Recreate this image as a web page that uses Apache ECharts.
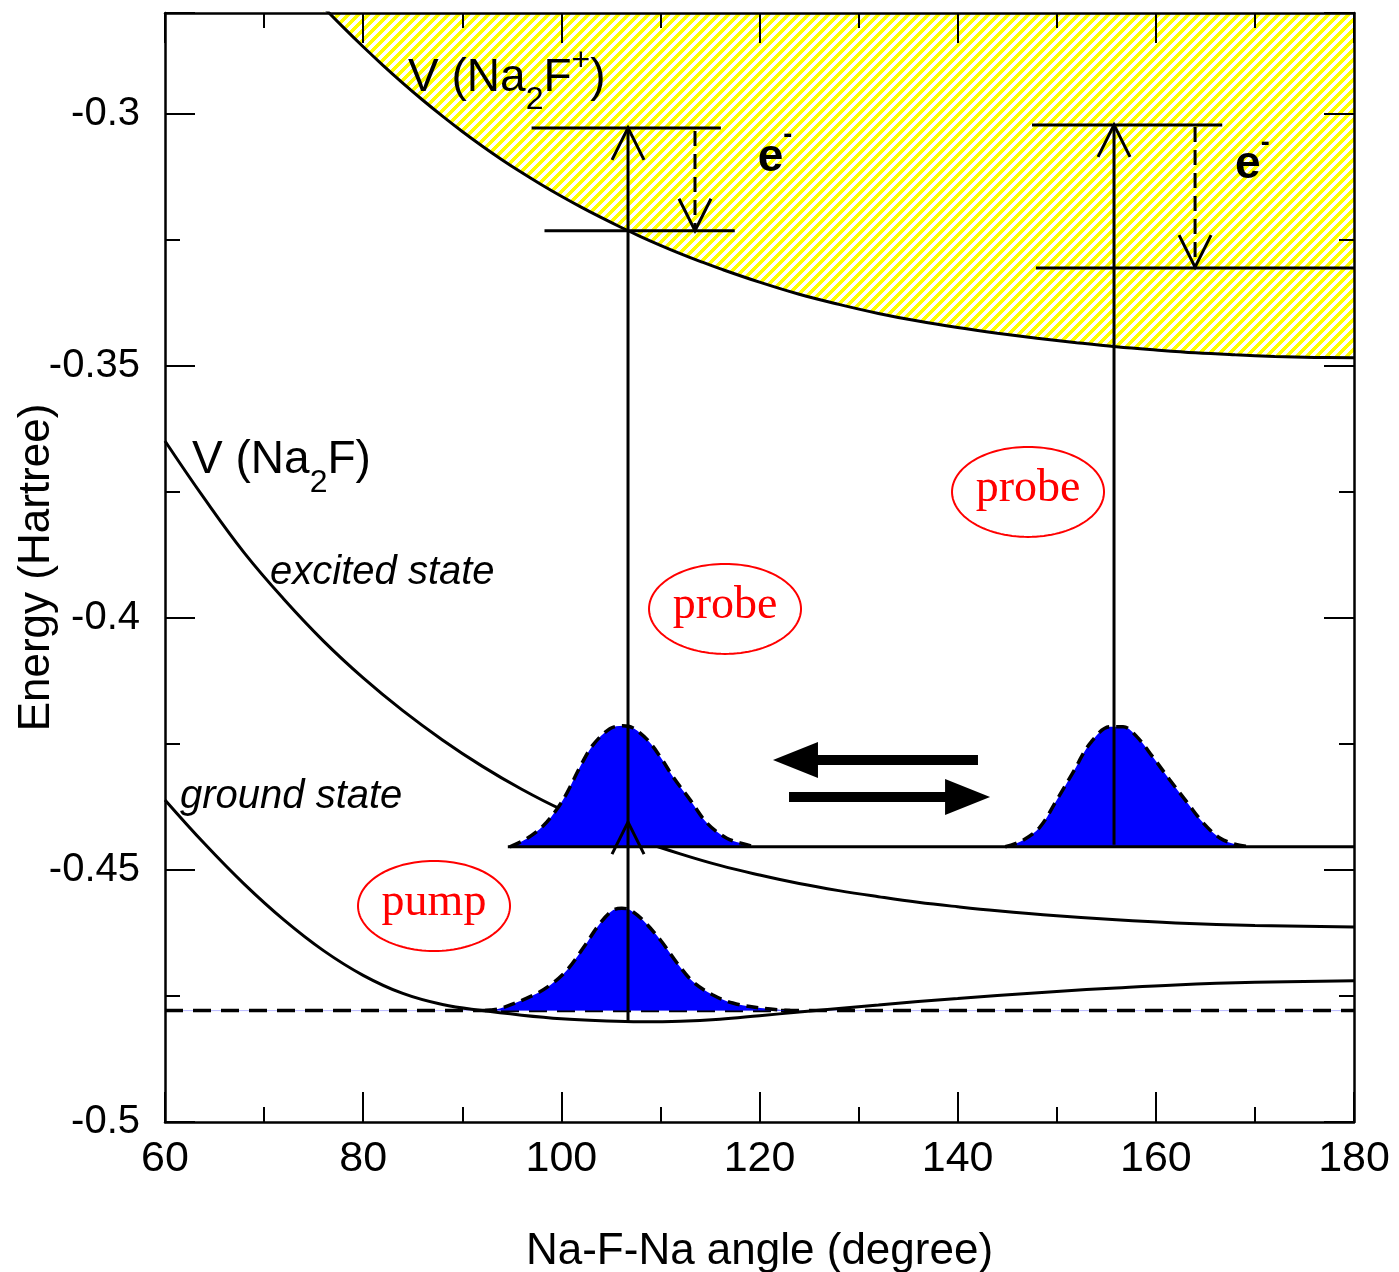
<!DOCTYPE html>
<html>
<head>
<meta charset="utf-8">
<script src="https://cdn.jsdelivr.net/npm/echarts@6/dist/echarts.min.js"></script>
<style>
  html, body { margin: 0; padding: 0; background: #fff; }
  #chart { width: 1399px; height: 1272px; }
</style>
</head>
<body>
<div id="chart"></div>
<script>
// ---- potential energy curves (angle in degree, energy in Hartree) ----
const ionCurve = [
  [76, -0.27886], [78, -0.28286], [80, -0.28670], [82, -0.29038], [84, -0.29390], [86, -0.29726],
  [88, -0.30046], [90, -0.30350], [92, -0.30638], [94, -0.30910], [96, -0.31166], [98, -0.31408],
  [100, -0.31636], [102, -0.31852], [104, -0.32056], [106, -0.32250], [108, -0.32434], [110, -0.32608],
  [112, -0.32772], [114, -0.32926], [116, -0.33072], [120, -0.33340], [124, -0.33580], [128, -0.33780],
  [132, -0.33960], [136, -0.34112], [140, -0.34240], [144, -0.34352], [148, -0.34452], [152, -0.34540],
  [156, -0.34620], [160, -0.34684], [164, -0.34740], [168, -0.34780], [172, -0.34812], [176, -0.34832],
  [180, -0.34840]
];
const excitedCurve = [
  [60, -0.3649], [64, -0.3764], [68, -0.3871], [72, -0.3963], [76, -0.4046], [80, -0.4119],
  [84, -0.4184], [88, -0.4242], [92, -0.4294], [96, -0.4340], [100, -0.4380], [104, -0.4412],
  [108, -0.4442], [112, -0.4468], [116, -0.4491], [120, -0.4510], [124, -0.4527], [128, -0.4541],
  [132, -0.4553], [136, -0.4564], [140, -0.4573], [144, -0.4581], [150, -0.4591], [156, -0.4599],
  [162, -0.4605], [170, -0.4610], [180, -0.4613]
];
const groundCurve = [
  [60, -0.4361], [64, -0.4448], [68, -0.4528], [72, -0.4599], [76, -0.4660], [80, -0.4709],
  [84, -0.4745], [88, -0.4767], [92, -0.4779], [96, -0.4788], [100, -0.4795], [104, -0.4799],
  [108, -0.4801], [112, -0.4800], [116, -0.4796], [120, -0.4789], [124, -0.4782], [128, -0.4775],
  [132, -0.4768], [136, -0.4761], [140, -0.4755], [144, -0.4749], [150, -0.4741], [156, -0.4734],
  [162, -0.4728], [170, -0.4723], [180, -0.4720]
];

// ---- vibrational levels and wave packets ----
const groundLevel = -0.4779;
const excitedLevel = -0.4454;
const groundPacket = [
  [92.3, -0.4779], [93.8, -0.4775], [97.1, -0.4749], [98.9, -0.4728], [100.6, -0.4698],
  [102.2, -0.4655], [103.9, -0.4606], [105.2, -0.4580], [106.1, -0.4576], [106.9, -0.4579],
  [108.2, -0.4599], [110.0, -0.4639], [111.7, -0.4685], [113.3, -0.4722], [115.3, -0.4748],
  [117.3, -0.4764], [120.1, -0.4774], [123.1, -0.4779]
];
const excitedPacketNear = [
  [94.8, -0.4454], [96.5, -0.4438], [98.2, -0.4412], [99.6, -0.4378], [100.6, -0.4346],
  [101.9, -0.4295], [103.2, -0.4252], [104.9, -0.4220], [106.2, -0.4214], [107.2, -0.4218],
  [108.7, -0.4242], [110.0, -0.4276], [111.3, -0.4316], [113.0, -0.4361], [114.7, -0.4407],
  [116.7, -0.4437], [118.7, -0.4450], [119.4, -0.4454]
];
const excitedPacketFar = [
  [144.8, -0.4454], [146.6, -0.4441], [148.3, -0.4415], [150.0, -0.4361], [151.6, -0.4308],
  [153.4, -0.4248], [155.4, -0.4216], [156.7, -0.4216], [158.1, -0.4236], [159.7, -0.4276],
  [161.4, -0.4321], [163.2, -0.4367], [164.8, -0.4407], [166.5, -0.4437], [168.2, -0.4450],
  [169.5, -0.4454]
];

// ---- axis ticks ----
const angleTicks = [60, 80, 100, 120, 140, 160, 180];
const energyTicks = [-0.5, -0.45, -0.4, -0.35, -0.3];

// ---- transitions: horizontal energy levels [from angle, to angle, energy] ----
const levelLines = [
  [97.0, 116.1, -0.3028],
  [98.3, 117.5, -0.3232],
  [147.5, 166.7, -0.3022],
  [147.9, 180, -0.3306],
  [94.6, 180, excitedLevel]
];
// vertical transitions [angle, from energy, to energy, dashed]
const transitions = [
  [106.73, -0.4801, -0.4405, 0],   // pump
  [106.73, -0.4405, -0.3028, 0],   // probe at the turning point
  [155.78, -0.4450, -0.3022, 0],   // probe at the far side
  [113.49, -0.3034, -0.3232, 1],   // photo-electron
  [163.96, -0.3026, -0.3304, 1]    // photo-electron
];
// packet motion [from angle, to angle, energy]
const motionArrows = [
  [142.05, 121.36, -0.42817],
  [122.98, 143.27, -0.43552]
];
// pulse tags [angle, energy, text]
const pulseTags = [
  [87.15, -0.45714, 'pump'],
  [116.52, -0.39821, 'probe'],
  [147.10, -0.37500, 'probe']
];
// text labels: anchor is the left end of the baseline; parts: [text, 0 normal | -1 sub | 1 sup]
const curveLabels = [
  { at: [84.53, -0.29569], kind: 'formula', parts: [['V (Na', 0], ['2', -1], ['F', 0], ['+', 1], [')', 0]] },
  { at: [62.73, -0.37163], kind: 'formula', parts: [['V (Na', 0], ['2', -1], ['F)', 0]] },
  { at: [70.60, -0.39345], kind: 'state', parts: [['excited state', 0]] },
  { at: [61.51, -0.43790], kind: 'state', parts: [['ground state', 0]] },
  { at: [119.82, -0.31157], kind: 'electron', parts: [['e', 0], ['-', 1]] },
  { at: [168.00, -0.31310], kind: 'electron', parts: [['e', 0], ['-', 1]] }
];

const SANS = "'Liberation Sans', Arial, sans-serif";
const SERIF = "'Liberation Serif', 'Times New Roman', serif";
const labelStyles = {
  formula:  { size: 46, small: 32, sub: 18, sup: 21, fontStyle: 'normal', fontWeight: 'normal' },
  state:    { size: 40, small: 30, sub: 0, sup: 0, fontStyle: 'italic', fontWeight: 'normal' },
  electron: { size: 46, small: 27, sub: 0, sup: 28, fontStyle: 'normal', fontWeight: 'bold' }
};

const measureCtx = document.createElement('canvas').getContext('2d');
function textWidth(text, font) {
  measureCtx.font = font;
  return measureCtx.measureText(text).width;
}

// diagonal yellow hatching for the ionic continuum (pixel-exact "/" stripes)
function makeHatch() {
  const n = 10;
  const c = document.createElement('canvas');
  c.width = n; c.height = n;
  const g = c.getContext('2d');
  g.fillStyle = '#ffffff';
  g.fillRect(0, 0, n, n);
  g.fillStyle = '#ffff00';
  for (let y = 0; y < n; y++) {
    for (let x = 0; x < n; x++) {
      if ((x + y) % n < 5) g.fillRect(x, y, 1, 1);
    }
  }
  return c;
}

const BLACK = '#000000';
const tickStyle = { color: BLACK, width: 2 };
const axisLine = { show: true, onZero: false, lineStyle: { color: BLACK, width: 2.5 } };

function xAxisDef(position, withLabels) {
  return {
    type: 'value', min: 60, max: 180, interval: 20, position, z: 10,
    axisLine,
    axisTick: { show: true, inside: true, length: 30, lineStyle: tickStyle },
    minorTick: { show: true, splitNumber: 2, length: 15, lineStyle: tickStyle },
    splitLine: { show: false }, minorSplitLine: { show: false },
    axisLabel: withLabels ? {
      show: true, fontSize: 43, fontFamily: SANS, color: BLACK, margin: 16,
      formatter: v => (angleTicks.indexOf(v) >= 0 ? String(v) : '')
    } : { show: false }
  };
}
function yAxisDef(position, interval, tickLen, withLabels, showLine) {
  return {
    type: 'value', min: -0.5, max: -0.28, interval, position, z: 10,
    axisLine: showLine ? axisLine : { show: false },
    axisTick: { show: true, inside: true, length: tickLen, lineStyle: tickStyle },
    splitLine: { show: false },
    axisLabel: withLabels ? {
      show: true, fontSize: 40, fontFamily: SANS, color: BLACK, margin: 25,
      formatter: v => {
        const t = energyTicks.find(e => Math.abs(e - v) < 1e-9);
        return t === undefined ? '' : String(t);
      }
    } : { show: false }
  };
}

const xMain = xAxisDef('bottom', true);
Object.assign(xMain, {
  name: 'Na-F-Na angle (degree)', nameLocation: 'middle', nameGap: 108, nameMoveOverlap: false,
  nameTextStyle: { fontSize: 44, fontFamily: SANS, color: BLACK }
});
const yMain = yAxisDef('left', 0.05, 30, true, true);
Object.assign(yMain, {
  name: 'Energy (Hartree)', nameLocation: 'middle', nameGap: 106, nameRotate: 90, nameMoveOverlap: false,
  nameTextStyle: { fontSize: 44, fontFamily: SANS, color: BLACK }
});

function curveSeries(name, data, z) {
  return {
    name, type: 'line', data, smooth: 0.4, symbol: 'none', z, silent: true,
    lineStyle: { color: BLACK, width: 3 }
  };
}
function packetSeries(name, data, level) {
  return {
    name, type: 'line', data, smooth: 0.35, symbol: 'none', z: 4, silent: true,
    lineStyle: { color: BLACK, width: 3.5, type: [12, 7] },
    areaStyle: { color: '#0000ff', opacity: 1, origin: level }
  };
}

function arrowHead(x, y, dir) {
  // open "V" arrow head, dir = -1 pointing up, +1 pointing down (screen)
  return {
    type: 'polyline',
    shape: { points: [[x - 16, y - dir * 32], [x, y], [x + 16, y - dir * 32]] },
    style: { stroke: BLACK, lineWidth: 3, fill: null }
  };
}

const option = {
  animation: false,
  backgroundColor: '#ffffff',
  grid: { left: 165, right: 45, top: 13, bottom: 150, containLabel: false, outerBoundsMode: 'none' },
  xAxis: [xMain, xAxisDef('top', false)],
  yAxis: [
    yMain,
    yAxisDef('left', 0.025, 15, false, false),
    yAxisDef('right', 0.05, 30, false, true),
    yAxisDef('right', 0.025, 15, false, false)
  ],
  series: [
    {
      name: 'V (Na2F+)', type: 'line', data: ionCurve, smooth: 0.4, symbol: 'none', z: 1, silent: true,
      lineStyle: { color: BLACK, width: 3 },
      areaStyle: { color: { image: makeHatch(), repeat: 'repeat' }, opacity: 1, origin: 'end' }
    },
    {
      name: 'ground level glow', type: 'line', symbol: 'none', z: 2, silent: true,
      data: [[60, groundLevel], [180, groundLevel]],
      lineStyle: { color: '#b8b8ff', width: 1 }
    },
    {
      name: 'ground level', type: 'line', symbol: 'none', z: 2, silent: true,
      data: [[60, groundLevel], [180, groundLevel]],
      lineStyle: { color: BLACK, width: 3.5, type: [18, 10] }
    },
    curveSeries('excited state', excitedCurve, 3),
    curveSeries('ground state', groundCurve, 3),
    packetSeries('ground packet', groundPacket, groundLevel),
    packetSeries('excited packet near', excitedPacketNear, excitedLevel),
    packetSeries('excited packet far', excitedPacketFar, excitedLevel),
    {
      name: 'levels', type: 'custom', z: 5, silent: true,
      data: levelLines, encode: { x: [0, 1], y: 2 },
      renderItem: (params, api) => {
        const p1 = api.coord([api.value(0), api.value(2)]);
        const p2 = api.coord([api.value(1), api.value(2)]);
        return {
          type: 'line', shape: { x1: p1[0], y1: p1[1], x2: p2[0], y2: p2[1] },
          style: { stroke: BLACK, lineWidth: 3 }
        };
      }
    },
    {
      name: 'transitions', type: 'custom', z: 6, silent: true,
      data: transitions, encode: { x: 0, y: [1, 2] },
      renderItem: (params, api) => {
        const a = api.coord([api.value(0), api.value(1)]);
        const b = api.coord([api.value(0), api.value(2)]);
        const dashed = api.value(3) === 1;
        const dir = b[1] > a[1] ? 1 : -1;
        return {
          type: 'group',
          children: [
            {
              type: 'line', shape: { x1: a[0], y1: a[1], x2: b[0], y2: b[1] },
              style: { stroke: BLACK, lineWidth: 3, lineDash: dashed ? [15, 8] : null }
            },
            arrowHead(b[0], b[1], dir)
          ]
        };
      }
    },
    {
      name: 'packet motion', type: 'custom', z: 6, silent: true,
      data: motionArrows, encode: { x: [0, 1], y: 2 },
      renderItem: (params, api) => {
        const from = api.coord([api.value(0), api.value(2)]);
        const to = api.coord([api.value(1), api.value(2)]);
        const dir = to[0] > from[0] ? 1 : -1;
        const y = from[1];
        const base = to[0] - dir * 45;
        const ht = 5, hw = 18;
        return {
          type: 'polygon',
          shape: {
            points: [
              [from[0], y - ht], [base, y - ht], [base, y - hw], [to[0], y],
              [base, y + hw], [base, y + ht], [from[0], y + ht]
            ]
          },
          style: { fill: BLACK, stroke: null }
        };
      }
    },
    {
      name: 'pulses', type: 'custom', z: 6, silent: true,
      data: pulseTags.map(t => [t[0], t[1]]), encode: { x: 0, y: 1 },
      renderItem: (params, api) => {
        const c = api.coord([api.value(0), api.value(1)]);
        const pts = [];
        for (let i = 0; i < 120; i++) {
          const t = (i / 120) * Math.PI * 2;
          pts.push([c[0] + 76 * Math.cos(t), c[1] + 45 * Math.sin(t)]);
        }
        return {
          type: 'group',
          children: [
            { type: 'polygon', shape: { points: pts }, style: { stroke: '#ff0000', lineWidth: 2, fill: null } },
            {
              type: 'text', x: c[0], y: c[1] - 3,
              style: {
                text: pulseTags[params.dataIndex][2], fill: '#ff0000',
                fontSize: 46, fontFamily: SERIF, align: 'center', verticalAlign: 'middle'
              }
            }
          ]
        };
      }
    },
    {
      name: 'labels', type: 'custom', z: 7, silent: true,
      data: curveLabels.map(l => l.at), encode: { x: 0, y: 1 },
      renderItem: (params, api) => {
        const lab = curveLabels[params.dataIndex];
        const st = labelStyles[lab.kind];
        const p = api.coord(lab.at);
        let x = p[0];
        const children = [];
        lab.parts.forEach(([text, kind]) => {
          const size = kind === 0 ? st.size : st.small;
          const shift = kind === -1 ? st.sub : (kind === 1 ? -st.sup : 0);
          const font = `${st.fontStyle} ${st.fontWeight} ${size}px ${SANS}`;
          children.push({
            type: 'text', x, y: p[1] + shift - 0.31 * size,
            style: {
              text, fill: BLACK, fontSize: size, fontFamily: SANS,
              fontStyle: st.fontStyle, fontWeight: st.fontWeight,
              align: 'left', verticalAlign: 'middle'
            }
          });
          x += textWidth(text, font);
        });
        return { type: 'group', children };
      }
    }
  ]
};

const chart = echarts.init(document.getElementById('chart'), null, { renderer: 'canvas' });
chart.setOption(option);
</script>
</body>
</html>
